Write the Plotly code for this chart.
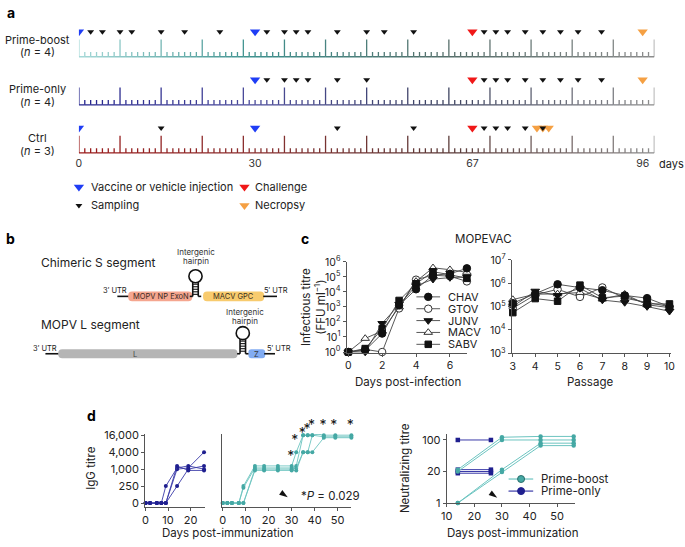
import numpy as np
import plotly.graph_objects as go

W, H = 685, 547

# ---------------- panel a : study timeline (days) ----------------
pb_vaccine = [0, 30]
pb_sampling = [2, 4, 7, 9, 14, 18, 24, 32, 35, 37, 39, 44, 49, 52, 57,
               69, 71, 73, 76, 79, 82, 85, 89]
pb_challenge = [67]
pb_necropsy = [96]

po_vaccine = [30]
po_sampling = [32, 35, 37, 39, 44, 49, 69, 71, 73, 76, 79, 82, 85, 89]
po_challenge = [67]
po_necropsy = [96]

ctrl_vaccine = [0, 30]
ctrl_sampling = [14, 44, 57, 69, 71, 73, 76, 79]
ctrl_challenge = [67]
ctrl_necropsy = [78, 79, 80]

timeline_end = 98
timeline_labels = [0, 30, 67, 96]

# ---------------- panel c : MOPEVAC growth ----------------
viruses = ["CHAV", "GTOV", "JUNV", "MACV", "SABV"]
dpi_days = [0, 1, 2, 3, 4, 5, 6, 7]
growth_chav = [1, 1.3, 17, 1300, 1.5e4, 1.3e5, 1.6e5, 3.7e5]
growth_gtov = [1, 1.5, 1, 800, 6.5e4, 1.3e5, 1.1e5, 5e4]
growth_junv = [1, 1.0, 80, 1500, 2.5e4, 7e4, 9e4, 1e5]
growth_macv = [1, 8, 25, 1000, 5e4, 4e5, 3e5, 2e5]
growth_sabv = [1, 1.7, 35, 2700, 3.5e4, 2.2e5, 1.4e5, 8e4]

passages = [3, 4, 5, 6, 7, 8, 9, 10]
pass_chav = [1.4e5, 3.6e5, 9e5, 6.5e5, 5e5, 3e5, 2.3e5, 1e5]
pass_gtov = [8.5e4, 3.2e5, 5.5e5, 2.6e5, 6.6e5, 2.3e5, 1.5e5, 1e5]
pass_junv = [1e5, 4.6e5, 3e5, 6e5, 1.9e5, 1.5e5, 1e5, 6.3e4]
pass_macv = [2e5, 3.4e5, 3.5e5, 4e5, 2.1e5, 3.4e5, 1.2e5, 9e4]
pass_sabv = [5.5e4, 2.2e5, 1.7e5, 8.3e5, 2.4e5, 2.8e5, 1.3e5, 1.3e5]

# ---------------- panel d : antibody responses ----------------
igg_days_po = [0, 2, 5, 7, 9, 14, 19, 26]
igg_po = [
    [0, 0, 0, 0, 250, 1100, 1300, 1000],
    [0, 0, 0, 0, 0, 1000, 1100, 4000],
    [0, 0, 0, 0, 0, 250, 1000, 1300],
    [0, 0, 0, 0, 0, 1300, 900, 900],
]
igg_days_pb = [0, 2, 4, 7, 9, 14, 18, 24, 30, 32, 35, 37, 39, 44, 49, 56]
igg_pb = [
    [0, 0, 0, 0, 250, 1300, 1300, 1300, 1300, 4000, 16000, 16000, 16000, 19000, 19000, 19000],
    [0, 0, 0, 0, 220, 1100, 1100, 1100, 1100, 1300, 16000, 16000, 19000, 16000, 16000, 16000],
    [0, 0, 0, 0, 0, 1000, 1000, 1000, 1000, 1100, 4000, 4000, 16000, 14000, 14000, 14000],
    [0, 0, 0, 0, 0, 900, 900, 900, 900, 900, 4000, 4000, 4000, 13000, 13000, 13000],
]
igg_ticks = [0, 250, 1000, 4000, 16000]
# significance stars (day, titre height at which each star sits)
star_days = [29.6, 31.4, 34.6, 36.7, 38.6, 43.6, 48.3, 55.5]
star_titres = [2600, 9300, 16300, 24300, 32500, 32500, 32500, 32500]

neut_days_pb = [14, 30, 44, 56]
neut_pb = [[22, 115, 120, 120], [20, 100, 100, 100], [1, 22, 85, 85], [1, 19, 75, 75]]
neut_days_po = [14, 26]
neut_po = [[100, 100], [22, 22], [20, 20], [17, 17]]
neut_ticks = [1, 20, 100]
boost_day = 28.3

TEAL = "#6cc4c0"
TEAL_M = "#45a8a4"
NAVY = "#1f1f8f"
FONT = "Inter"
TXT = "#222"


def px(x):
    return x / W


def py(y):
    return 1 - y / H


def hex_rgb(c):
    return [int(c[i:i + 2], 16) for i in (1, 3, 5)]


def grad(stops, d):
    for (d0, c0), (d1, c1) in zip(stops[:-1], stops[1:]):
        if d0 <= d <= d1:
            t = (d - d0) / (d1 - d0)
            a, b = hex_rgb(c0), hex_rgb(c1)
            return "rgb(%d,%d,%d)" % tuple(round(a[k] + (b[k] - a[k]) * t) for k in range(3))
    return stops[-1][1]


def igg_pos(t):
    t = np.asarray(t, dtype=float)
    out = np.zeros_like(t)
    nz = t > 0
    out[nz] = 1 + np.log(t[nz] / 250) / np.log(4)
    return out


def neut_pos(t):
    t = np.asarray(t, dtype=float)
    return np.where(t >= 20, 1 + np.log(t / 20) / np.log(5), np.log(t) / np.log(20))


fig = go.Figure()
annots = []
shapes = []


def text(x, y, s, size=11, anchor="center", color=TXT, angle=0, bold=False):
    annots.append(dict(x=px(x), y=py(y), xref="paper", yref="paper",
                       text=("<b>%s</b>" % s) if bold else s,
                       showarrow=False, xanchor=anchor, yanchor="middle", textangle=angle,
                       font=dict(family=FONT, size=size, color=color)))


# ---------------- panel a ----------------
rows = [
    (0, [(0, "#a6d9d8"), (30, "#3f918e"), (63, "#566f6b"), (98, "#8c8c8c")],
     pb_vaccine, pb_sampling, pb_challenge, pb_necropsy),
    (-1, [(0, "#23238d"), (30, "#4a4a9a"), (63, "#3d4360"), (98, "#8c8c8c")],
     po_vaccine, po_sampling, po_challenge, po_necropsy),
    (-2, [(0, "#9a1a1a"), (30, "#8a2f2f"), (63, "#5b3a38"), (98, "#8c8c8c")],
     ctrl_vaccine, ctrl_sampling, ctrl_challenge, ctrl_necropsy),
]
MAJOR, MINOR, MK = 0.36, 0.10, 0.52
for base, stops, vac, samp, chal, necr in rows:
    for d in range(timeline_end + 1):
        h = MAJOR if d % 7 == 0 else MINOR
        xs = [d, d]
        ys = [base, base + h]
        if d < timeline_end:
            xs += [None, d, d + 1]
            ys += [None, base, base]
        fig.add_trace(go.Scatter(x=xs, y=ys, xaxis="x2", yaxis="y2", mode="lines",
                                 line=dict(color=grad(stops, d + 0.5), width=1.3),
                                 hoverinfo="skip", showlegend=False))
    for days, col, sz in [(necr, "#f5a043", 9), (vac, "#1f3df5", 9), (chal, "#f01818", 9),
                          (samp, "#111111", 6)]:
        fig.add_trace(go.Scatter(x=days, y=[base + MK] * len(days), xaxis="x2", yaxis="y2",
                                 mode="markers", showlegend=False,
                                 marker=dict(symbol="triangle-down", size=sz, color=col,
                                             line=dict(width=0))))

text(5, 5, "a", size=14, bold=True, color="#000")
for yy, s in [(32.5, "Prime-boost"), (45.5, "(<i>n</i> = 4)"), (83, "Prime-only"),
              (96.5, "(<i>n</i> = 4)"), (134, "Ctrl"), (147.5, "(<i>n</i> = 3)")]:
    text(32, yy, s, size=11)
text(661, 160, "days", size=11, anchor="left")

# legend of panel a (on pixel canvas)
for x, y, col, sz in [(74, 184, "#1f3df5", 9), (242, 184, "#f01818", 9),
                      (74, 203, "#111111", 6), (242, 203, "#f5a043", 9)]:
    fig.add_trace(go.Scatter(x=[x], y=[y], mode="markers", showlegend=False, hoverinfo="skip",
                             marker=dict(symbol="triangle-down", size=sz, color=col, line=dict(width=0))))
text(84, 184, "Vaccine or vehicle injection", size=11, anchor="left")
text(251, 184, "Challenge", size=11, anchor="left")
text(84, 203, "Sampling", size=11, anchor="left")
text(251, 203, "Necropsy", size=11, anchor="left")

# ---------------- panel b : genome schematic ----------------
text(5, 237, "b", size=14, bold=True, color="#000")
text(33, 262, "Chimeric S segment", size=12, anchor="left")
text(33, 325, "MOPV L segment", size=12, anchor="left")


def rrect(x0, y0, x1, y1, r, fill):
    p = ("M %f,%f L %f,%f Q %f,%f %f,%f L %f,%f Q %f,%f %f,%f L %f,%f Q %f,%f %f,%f "
         "L %f,%f Q %f,%f %f,%f Z") % (
        x0 + r, y0, x1 - r, y0, x1, y0, x1, y0 + r, x1, y1 - r, x1, y1, x1 - r, y1,
        x0 + r, y1, x0, y1, x0, y1 - r, x0, y0 + r, x0, y0, x0 + r, y0)
    shapes.append(dict(type="path", path=p, xref="x", yref="y", fillcolor=fill,
                       line=dict(width=0), layer="above"))


def seg(x0, y0, x1, y1, w=1.6):
    shapes.append(dict(type="line", x0=x0, y0=y0, x1=x1, y1=y1, xref="x", yref="y",
                       line=dict(color="#111", width=w), layer="above"))


def hairpin(xc, y_top, y_base):
    xl, xr = xc - 2.8, xc + 2.8
    r = 6.7
    seg(xl, y_top, xl, y_base)
    seg(xr, y_top, xr, y_base)
    seg(xl - 3, y_base, xl, y_base)
    seg(xr, y_base, xr + 3, y_base)
    for yy in np.arange(y_top + 2.5, y_base - 1, 2.6):
        seg(xl, yy, xr, yy, w=1.1)
    shapes.append(dict(type="circle", xref="x", yref="y", x0=xc - r, x1=xc + r,
                       y0=y_top - 2 * r + 1, y1=y_top + 1, line=dict(color="#111", width=1.6),
                       fillcolor="white", layer="above"))


# S segment
seg(113, 296.5, 125, 296.5)
rrect(124, 291.5, 189, 301.5, 4, "#f5a68f")
rrect(200, 291.5, 262, 301.5, 4, "#f8cb6e")
seg(261, 296.5, 275, 296.5)
hairpin(192.3, 281.5, 296.5)
text(111, 290, "3′ UTR", size=7.5)
text(274, 290, "5′ UTR", size=7.5)
text(157, 297, "MOPV NP ExoN", size=7.5, color="#3a2a25")
text(231, 297, "MACV GPC", size=7.5, color="#3a3020")
text(193, 251, "Intergenic", size=8, color="#333")
text(193, 260, "hairpin", size=8, color="#333")
# L segment
seg(40, 355.5, 54, 355.5)
rrect(53, 351, 235, 360, 4, "#b5b5b5")
rrect(246, 351, 263, 360, 3, "#82acf2")
seg(262, 355.5, 273, 355.5)
hairpin(240.3, 340, 355.5)
text(40, 350, "3′ UTR", size=7.5)
text(277, 350, "5′ UTR", size=7.5)
text(131, 356, "L", size=7.5, color="#444")
text(254.5, 356, "Z", size=7.5, color="#333")
text(243, 313, "Intergenic", size=8, color="#333")
text(243, 322, "hairpin", size=8, color="#333")

# ---------------- panel c ----------------
text(303, 237, "c", size=14, bold=True, color="#000")
text(485, 238, "MOPEVAC", size=11.5)
vstyle = {
    "CHAV": dict(symbol="circle", color="#111", line=dict(color="#111", width=1)),
    "GTOV": dict(symbol="circle", color="white", line=dict(color="#333", width=1)),
    "JUNV": dict(symbol="triangle-down", color="#111", line=dict(color="#111", width=1)),
    "MACV": dict(symbol="triangle-up", color="white", line=dict(color="#333", width=1)),
    "SABV": dict(symbol="square", color="#111", line=dict(color="#111", width=1)),
}
growth = [growth_chav, growth_gtov, growth_junv, growth_macv, growth_sabv]
passage = [pass_chav, pass_gtov, pass_junv, pass_macv, pass_sabv]
order = [1, 3, 2, 4, 0]
for i in order:
    v = viruses[i]
    sz = 6.5 if v == "SABV" else 7.5
    fig.add_trace(go.Scatter(x=dpi_days, y=growth[i], xaxis="x3", yaxis="y3", mode="lines+markers",
                             line=dict(color="#444", width=0.9), marker=dict(size=sz, **vstyle[v]),
                             showlegend=False, name=v, cliponaxis=False))
    fig.add_trace(go.Scatter(x=passages, y=passage[i], xaxis="x4", yaxis="y4", mode="lines+markers",
                             line=dict(color="#444", width=0.9), marker=dict(size=sz, **vstyle[v]),
                             showlegend=False, name=v, cliponaxis=False))
# legend keys of panel c
for k, v in enumerate(viruses):
    yy = 297 + 12.2 * k
    sz = 6.5 if v == "SABV" else 7.5
    fig.add_trace(go.Scatter(x=[416.5, 440.5], y=[yy, yy], mode="lines", showlegend=False,
                             line=dict(color="#444", width=0.9), hoverinfo="skip"))
    fig.add_trace(go.Scatter(x=[428.5], y=[yy], mode="markers", showlegend=False,
                             marker=dict(size=sz, **vstyle[v]), hoverinfo="skip"))
    text(447, yy, v, size=11, anchor="left")

text(312, 307, "Infectious titre<br>(FFU ml<sup>−1</sup>)", size=11.5, angle=-90)
text(408, 385, "Days post-infection", size=11.5)
text(593, 385, "Passage", size=11.5)

# ---------------- panel d ----------------
text(87, 419, "d", size=14, bold=True, color="#000")
for serie in igg_po:
    fig.add_trace(go.Scatter(x=igg_days_po, y=igg_pos(serie), xaxis="x5", yaxis="y5",
                             mode="lines+markers", showlegend=False, cliponaxis=False,
                             line=dict(color="#3a3aa8", width=0.9),
                             marker=dict(size=4, color=NAVY)))
for serie in igg_pb:
    fig.add_trace(go.Scatter(x=igg_days_pb, y=igg_pos(serie), xaxis="x6", yaxis="y6",
                             mode="lines+markers", showlegend=False, cliponaxis=False,
                             line=dict(color=TEAL, width=0.9),
                             marker=dict(size=4, color=TEAL_M)))
# stars live on an invisible twin of y6 that reaches a little higher
fig.add_trace(go.Scatter(x=star_days, y=igg_pos(star_titres), xaxis="x6", yaxis="y8",
                         mode="text", text=["*"] * len(star_days), cliponaxis=False,
                         textfont=dict(family=FONT, size=14, color="#111"),
                         showlegend=False, hoverinfo="skip"))
fig.add_trace(go.Scatter(x=[boost_day], y=[0.34], xaxis="x6", yaxis="y6", mode="markers",
                         cliponaxis=False, showlegend=False, hoverinfo="skip",
                         marker=dict(symbol="arrow", angle=125, size=9, color="#111",
                                     line=dict(width=0))))
text(329, 502, "*<i>P</i> = 0.029", size=11.5)
text(86, 473, "IgG titre", size=11.5, angle=-90)
text(225, 540, "Days post-immunization", size=11.5)

for serie in neut_po:
    fig.add_trace(go.Scatter(x=neut_days_po, y=neut_pos(serie), xaxis="x7", yaxis="y7",
                             mode="lines+markers", showlegend=False, cliponaxis=False,
                             line=dict(color="#3a3aa8", width=1),
                             marker=dict(size=4.5, color=NAVY, symbol="square")))
for serie in neut_pb:
    fig.add_trace(go.Scatter(x=neut_days_pb, y=neut_pos(serie), xaxis="x7", yaxis="y7",
                             mode="lines+markers", showlegend=False, cliponaxis=False,
                             line=dict(color=TEAL, width=1),
                             marker=dict(size=4.5, color=TEAL_M)))
fig.add_trace(go.Scatter(x=[boost_day], y=[0.17], xaxis="x7", yaxis="y7", mode="markers",
                         cliponaxis=False, showlegend=False, hoverinfo="skip",
                         marker=dict(symbol="arrow", angle=125, size=9, color="#111",
                                     line=dict(width=0))))
text(405, 473, "Neutralizing titre", size=11.5, angle=-90)
text(515, 540, "Days post-immunization", size=11.5)
for k, (lab, lc, mc) in enumerate([("Prime-boost", TEAL, TEAL_M), ("Prime-only", "#3a3aa8", NAVY)]):
    yy = 484.3 + 12.4 * k
    fig.add_trace(go.Scatter(x=[510, 535], y=[yy, yy], mode="lines", showlegend=False,
                             line=dict(color=lc, width=1.2), hoverinfo="skip"))
    fig.add_trace(go.Scatter(x=[522.7], y=[yy], mode="markers", showlegend=False, hoverinfo="skip",
                             marker=dict(size=7, color=mc, line=dict(color="#2a6e6b" if k == 0 else NAVY, width=1))))
    text(541, yy, lab, size=11.5, anchor="left")

# ---------------- axes ----------------
hidden = dict(visible=False, showgrid=False, zeroline=False)
tickf = dict(family=FONT, size=10.5, color=TXT)


def ax(domain, **kw):
    base = dict(domain=domain, showgrid=False, zeroline=False, showline=True, linecolor="#555",
                linewidth=1, ticks="outside", ticklen=3, tickcolor="#555", tickfont=tickf)
    base.update(kw)
    return base


d_unit = (512.7 - 438) / (4.07 + 0.21)   # px per IgG level

fig.update_layout(
    width=W, height=H, margin=dict(l=0, r=0, t=0, b=0),
    paper_bgcolor="white", plot_bgcolor="rgba(0,0,0,0)",
    xaxis=dict(domain=[0, 1], range=[0, W], **hidden),
    yaxis=dict(domain=[0, 1], range=[H, 0], **hidden),
    xaxis2=dict(domain=[px(74), px(658)], range=[0, timeline_end], anchor="y2", showgrid=False,
                zeroline=False, showline=False, ticks="", tickvals=timeline_labels,
                tickfont=dict(family=FONT, size=10.5, color="#333")),
    yaxis2=dict(domain=[py(152), py(15)], range=[-2.06, 0.71], anchor="x2", **hidden),
    xaxis3=ax([px(345.6), px(467.7)], range=[-0.1, 7], anchor="y3", tickvals=[0, 2, 4, 6]),
    yaxis3=ax([py(354.5), py(261)], type="log", range=[-0.05, 6], anchor="x3",
              tickvals=[10 ** k for k in range(7)],
              ticktext=["10<sup>%d</sup>" % k for k in range(7)]),
    xaxis4=ax([px(513.2), px(674.9)], range=[2.95, 10.07], anchor="y4", tickvals=passages),
    yaxis4=ax([py(355), py(259)], type="log", range=[3, 7], anchor="x4",
              tickvals=[10 ** k for k in range(3, 8)],
              ticktext=["10<sup>%d</sup>" % k for k in range(3, 8)]),
    xaxis5=ax([px(141.2), px(202.1)], range=[-0.2, 26.5], anchor="y5", tickvals=[0, 10, 20],
              tickfont=dict(family=FONT, size=11, color=TXT)),
    yaxis5=ax([py(512.7), py(438)], range=[-0.21, 4.07], anchor="x5",
              tickvals=list(igg_pos(igg_ticks)), ticktext=["0", "250", "1,000", "4,000", "16,000"],
              tickfont=dict(family=FONT, size=11, color=TXT)),
    xaxis6=ax([px(219.5), px(350.5)], range=[-0.2, 56], anchor="y6", tickvals=[0, 10, 20, 30, 40, 50],
              tickfont=dict(family=FONT, size=11, color=TXT)),
    yaxis6=ax([py(512.7), py(438)], range=[-0.21, 4.07], anchor="x6", ticks="", showticklabels=False),
    yaxis8=dict(domain=[py(512.7), py(438 - 1.0 * d_unit)], range=[-0.21, 5.07], anchor="x6",
                **hidden),
    xaxis7=ax([px(447.3), px(577.5)], range=[10, 56.5], anchor="y7", tickvals=[10, 20, 30, 40, 50],
              tickfont=dict(family=FONT, size=11, color=TXT)),
    yaxis7=ax([py(509), py(438)], range=[0, 2.19], anchor="x7",
              tickvals=list(neut_pos(neut_ticks)), ticktext=["1", "20", "100"],
              tickfont=dict(family=FONT, size=11, color=TXT)),
    annotations=annots,
    shapes=shapes,
)

# page body has a default 8px margin; drop it so the figure sits at the window's corner
fig.write_html("out.html", config={"displayModeBar": False},
               post_script="document.body.style.margin='0';")
